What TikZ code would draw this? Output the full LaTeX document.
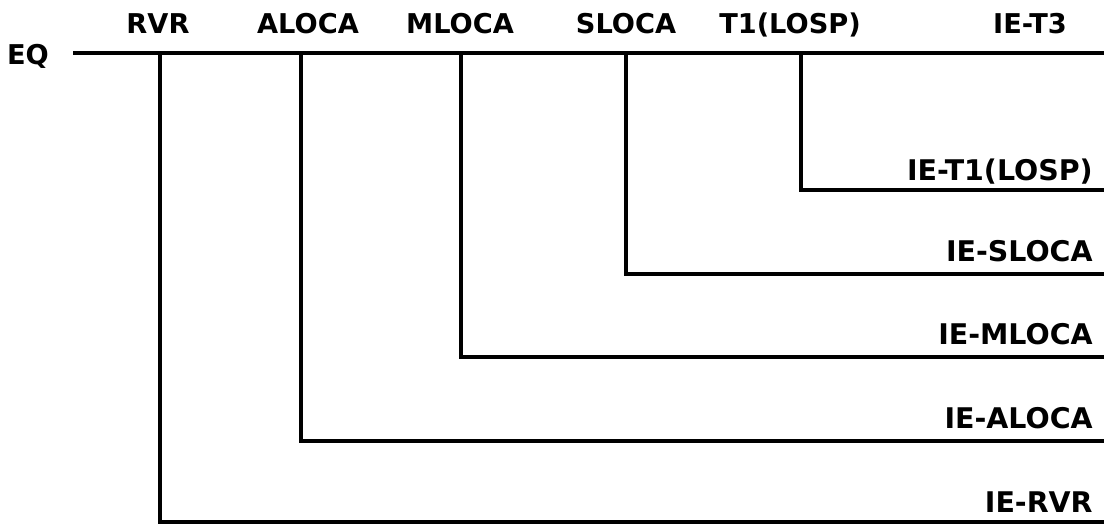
\documentclass[tikz,border=0pt]{standalone}
\usepackage{fontspec}
\setmainfont{DejaVu Sans}
\usetikzlibrary{positioning}

\begin{document}
\begin{tikzpicture}[x=0.02cm, y=-0.02cm,
  head/.style={font=\fontsize{15.5}{17}\selectfont\bfseries, inner sep=0pt, anchor=base},
  ielbl/.style={font=\fontsize{16.2}{18}\selectfont\bfseries, inner sep=0pt, anchor=base east},
  trunk/.style={line width=2.2pt},
  branch/.style={line width=2.2pt, line join=miter}]
  \useasboundingbox (0,0) rectangle (1104,525);
  % Event headings
  \node[head] (eq) at (28,64) {EQ};
  \node[head] (rvr) at (158,33) {RVR};
  \node[head] (aloca) at (308,33) {ALOCA};
  \node[head] (mloca) at (460,33) {MLOCA};
  \node[head] (sloca) at (626,33) {SLOCA};
  \node[head] (tlosp) at (790,33) {T1(LOSP)};
  \node[head] (iet3) at (1030,33) {IE-T3};
  % Trunk line
  \coordinate (eqstart) at (73,53);
  \coordinate (eqend) at (1104,53);
  \draw[trunk] (eqstart) -- (eqend);
  % Branch points on the trunk
  \coordinate (rvrtop) at (160,53);
  \coordinate (alocatop) at (301,53);
  \coordinate (mlocatop) at (461,53);
  \coordinate (slocatop) at (626,53);
  \coordinate (tlosptop) at (801,53);
  % Branch ends at the right edge
  \coordinate (tlospend) at (1104,190);
  \coordinate (slocaend) at (1104,274);
  \coordinate (mlocaend) at (1104,357);
  \coordinate (alocaend) at (1104,441);
  \coordinate (rvrend) at (1104,522);
  % Branches
  \draw[branch] (tlosptop) |- (tlospend);
  \draw[branch] (slocatop) |- (slocaend);
  \draw[branch] (mlocatop) |- (mlocaend);
  \draw[branch] (alocatop) |- (alocaend);
  \draw[branch] (rvrtop) |- (rvrend);
  % End states
  \node[ielbl] (ietlosp) at (1093,180) {IE-T1(LOSP)};
  \node[ielbl] (iesloca) at (1093,261) {IE-SLOCA};
  \node[ielbl] (iemloca) at (1093,344) {IE-MLOCA};
  \node[ielbl] (iealoca) at (1093,428) {IE-ALOCA};
  \node[ielbl] (iervr) at (1093,512) {IE-RVR};
\end{tikzpicture}
\end{document}
